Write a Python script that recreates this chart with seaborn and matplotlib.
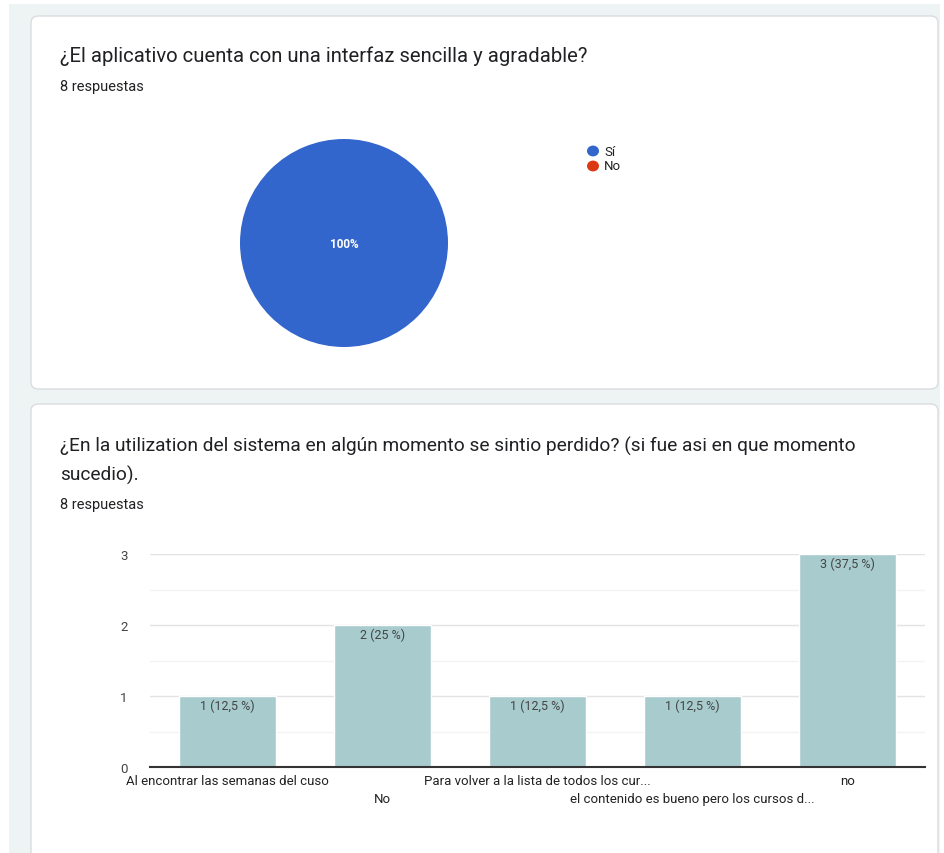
import numpy as np
import pandas as pd
import matplotlib
matplotlib.use("Agg")
import matplotlib.pyplot as plt
import matplotlib.transforms as mtransforms
from matplotlib.patches import FancyBboxPatch, Rectangle
import seaborn as sns

# data
pie_labels = ["Sí", "No"]
pie_values = [8, 0]
pie_colors = ["#3366cc", "#dc3912"]

bar_categories = ["Al encontrar las semanas del cuso", "No",
                  "Para volver a la lista de todos los cur...",
                  "el contenido es bueno pero los cursos d...", "no"]
bar_counts = [1, 2, 1, 1, 3]
total = 8

sns.set_style("white")
plt.rcParams["font.family"] = ["Roboto", "DejaVu Sans"]

W, H = 944, 854
fig = plt.figure(figsize=(W / 100, H / 100), dpi=100)
fig.patch.set_facecolor("white")


def fx(px):
    return px / W


def fy(py):
    return 1 - py / H


# page background
fig.patches.append(Rectangle((fx(9), 0), fx(940) - fx(9), fy(5), transform=fig.transFigure,
                             facecolor="#eef3f4", edgecolor="none", zorder=-20))

# cards (drawn under the axes)
for top, bottom in [(17, 390), (405, 870)]:
    card = FancyBboxPatch((fx(31), fy(bottom)), fx(938) - fx(31), fy(top) - fy(bottom),
                          boxstyle="round,pad=0,rounding_size=0.008",
                          transform=fig.transFigure, facecolor="white",
                          edgecolor="#dadce0", linewidth=1.0, zorder=-10)
    fig.patches.append(card)

# texts
fig.text(fx(60), fy(56), "¿El aplicativo cuenta con una interfaz sencilla y agradable?",
         fontsize=14.6, color="#202124", va="center")
fig.text(fx(60), fy(87), "8 respuestas", fontsize=10.5, color="#202124", va="center")
fig.text(fx(60), fy(446),
         "¿En la utilization del sistema en algún momento se sintio perdido? (si fue asi en que momento",
         fontsize=13.8, color="#202124", va="center")
fig.text(fx(60), fy(475), "sucedio).", fontsize=13.8, color="#202124", va="center")
fig.text(fx(60), fy(505), "8 respuestas", fontsize=10.5, color="#202124", va="center")

# pie
ax1 = fig.add_axes([fx(240), fy(348), fx(208), fy(140) - fy(348)])
wedges, _ = ax1.pie(pie_values, colors=pie_colors, startangle=90, counterclock=False,
                    wedgeprops=dict(linewidth=0))
ax1.set_xlim(-1, 1)
ax1.set_ylim(-1, 1)
ax1.set_aspect("equal")
ax1.text(0, 0, "100%", color="white", fontsize=8.5, fontweight="bold", ha="center", va="center")

# legend
for i, (lab, col) in enumerate(zip(pie_labels, pie_colors)):
    yy = fy(152 + i * 15)
    fig.patches.append(plt.Circle((fx(593), yy), 6 / W, transform=fig.transFigure,
                                  facecolor=col, edgecolor="none"))
    fig.text(fx(604), yy, lab, fontsize=9.5, color="#222222", va="center")

# bar chart
df = pd.DataFrame({"cat": bar_categories, "count": bar_counts})
ax2 = fig.add_axes([fx(150), fy(768), fx(925) - fx(150), fy(555) - fy(768)])
sns.barplot(data=df, x="cat", y="count", color="#a8cbce", saturation=1, width=0.62, ax=ax2,
            zorder=3)
ax2.set_xlim(-0.5, len(bar_categories) - 0.5)
ax2.set_ylim(0, 3)
ax2.set_yticks([0, 1, 2, 3])
ax2.set_yticks([0.5, 1.5, 2.5], minor=True)
ax2.grid(axis="y", which="major", color="#e3e3e3", linewidth=1, zorder=0)
ax2.grid(axis="y", which="minor", color="#f3f3f3", linewidth=1, zorder=0)
ax2.set_axisbelow(True)
for s in ["top", "right", "left"]:
    ax2.spines[s].set_visible(False)
ax2.spines["bottom"].set_color("#333333")
ax2.spines["bottom"].set_linewidth(1.5)
ax2.spines["bottom"].set_zorder(4)
ax2.set_xlabel("")
ax2.set_ylabel("")
ax2.tick_params(axis="y", length=0, labelsize=9.5, labelcolor="#444444", pad=16)
ax2.tick_params(axis="x", length=0)
ax2.set_xticklabels([])

trans = mtransforms.blended_transform_factory(ax2.transData, ax2.transAxes)
for i, lab in enumerate(bar_categories):
    ax2.text(i, -0.065 if i % 2 == 0 else -0.15, lab, transform=trans, ha="center",
             va="center", fontsize=9.5, color="#222222")

for i, v in enumerate(bar_counts):
    pct = f"{v / total * 100:g}".replace(".", ",")
    ax2.text(i, v - 0.13, f"{v} ({pct} %)", ha="center", va="center",
             fontsize=9, color="#444444", zorder=5)

fig.savefig("out.png", dpi=100)
